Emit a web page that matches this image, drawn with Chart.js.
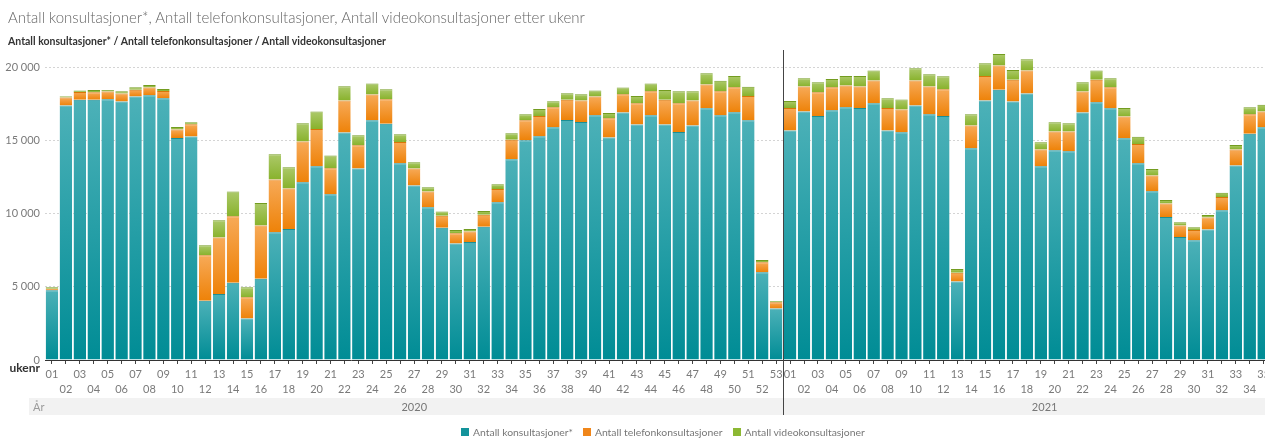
<!DOCTYPE html>
<html>
<head>
<meta charset="utf-8">
<script src="https://cdn.jsdelivr.net/npm/chart.js@4.4.1/dist/chart.umd.min.js"></script>
<style>
  html, body { margin: 0; padding: 0; background: #fff; }
  #wrap { position: relative; width: 1265px; height: 438px; overflow: hidden; font-family: Lato, "Open Sans", sans-serif; }
  #chartBox { position: absolute; left: 0; top: 0; width: 1273px; height: 438px; }
  #title { position: absolute; left: 8px; top: 8px; font-size: 15px; color: #666; font-weight: 300; white-space: nowrap; }
  #subtitle { position: absolute; left: 8px; top: 35px; font-size: 10.5px; color: #333; font-weight: bold; white-space: nowrap; }
  #legend { position: absolute; left: 461px; top: 426px; font-size: 10.4px; color: #777; white-space: nowrap; display: flex; align-items: center; }
  #legend .it { display: flex; align-items: center; margin-right: 10px; }
  #legend .sq { width: 8px; height: 8px; margin-right: 4px; display: inline-block; }
</style>
</head>
<body>
<div id="wrap">
  <div id="chartBox"><canvas id="c" width="1273" height="438"></canvas></div>
  <div id="title">Antall konsultasjoner*, Antall telefonkonsultasjoner, Antall videokonsultasjoner etter ukenr</div>
  <div id="subtitle">Antall konsultasjoner* / Antall telefonkonsultasjoner / Antall videokonsultasjoner</div>
  <div id="legend"></div>
</div>
<script>
// ---- data ----
const weekLabels = [
  '01','02','03','04','05','06','07','08','09','10','11','12','13','14','15','16','17','18','19','20',
  '21','22','23','24','25','26','27','28','29','30','31','32','33','34','35','36','37','38','39','40',
  '41','42','43','44','45','46','47','48','49','50','51','52','53',
  '01','02','03','04','05','06','07','08','09','10','11','12','13','14','15','16','17','18','19','20',
  '21','22','23','24','25','26','27','28','29','30','31','32','33','34','35'
];
const yearLabels = ['2020', '2021'];
const weeksPerYear = [53, 35];
const seriesNames = ['Antall konsultasjoner*', 'Antall telefonkonsultasjoner', 'Antall videokonsultasjoner'];
const yTicks = [0, 5000, 10000, 15000, 20000];

const konsultasjoner = [
  4770,17400,17790,17790,17830,17670,18020,18110,17900,15190,15280,4060,4520,5290,2830,5560,8730,8960,12150,13250,
  11330,15550,13090,16400,16150,13450,11930,10440,9050,7960,8070,9120,10790,13730,15030,15300,15920,16420,16280,16740,
  15210,16920,16100,16740,16100,15600,16030,17220,16740,16940,16400,6000,3530,
  15690,16990,16690,17080,17290,17240,17560,15690,15580,17400,16810,16690,5360,14480,17740,18490,17670,18220,13250,14340,
  14280,16920,17630,17220,15170,13450,11540,9780,8420,8190,8920,10240,13300,15480,15920
];
const telefon = [
  110,550,540,520,530,550,470,520,500,570,840,3100,3850,4540,1460,3630,3610,2760,2790,2550,
  1780,2190,1600,1750,1680,1460,1160,1080,820,710,710,820,910,1340,1370,1390,1370,1370,1460,1280,
  1320,1260,1460,1640,1690,1960,1710,1620,1640,1710,1660,680,420,
  1550,1710,1620,1570,1480,1460,1550,1550,1550,1710,1890,1830,610,1550,1690,1650,1490,1570,1140,1280,
  1340,1440,1530,1430,1480,1330,1070,920,770,700,820,910,1090,1330,1070
];
const video = [
  90,90,100,160,110,160,160,180,140,180,140,680,1190,1690,680,1550,1730,1460,1250,1190,
  870,980,680,760,690,530,430,290,280,220,180,250,320,440,410,480,410,450,440,410,
  370,450,500,530,680,820,640,770,710,780,620,160,90,
  480,570,690,570,660,730,680,660,680,840,840,890,260,780,870,780,680,780,500,640,
  570,640,630,620,590,480,460,250,230,190,180,280,320,480,460
];

// ---- styles ----
const allSeries = [konsultasjoner, telefon, video];
const palette = [
  { top: '#4cb1b8', bottom: '#008c95', line: '#1a8f96', legend: '#13939b' },
  { top: '#f7aa58', bottom: '#ee8208', line: '#d97607', legend: '#f0861a' },
  { top: '#acc96a', bottom: '#88b22c', line: '#739c20', legend: '#8cb833' }
];

function gradientFor(dsIdx) {
  const p = palette[dsIdx];
  return (ctx) => {
    const chart = ctx.chart;
    const area = chart.chartArea;
    const ys = chart.scales && chart.scales.y;
    if (!area || !ys || ctx.type !== 'data') return p.bottom;
    const i = ctx.dataIndex;
    let base = 0;
    for (let d = 0; d < dsIdx; d++) base += allSeries[d][i];
    const v = allSeries[dsIdx][i];
    const y0 = ys.getPixelForValue(base);
    const y1 = ys.getPixelForValue(base + v);
    if (!isFinite(y0) || !isFinite(y1) || Math.abs(y0 - y1) < 0.5) return p.bottom;
    const g = chart.ctx.createLinearGradient(0, y1, 0, y0);
    g.addColorStop(0, p.top);
    g.addColorStop(1, p.bottom);
    return g;
  };
}

function fmt(v) { return String(v).replace(/\B(?=(\d{3})+(?!\d))/g, ' '); }

// legend (HTML)
const legendEl = document.getElementById('legend');
seriesNames.forEach((n, i) => {
  const it = document.createElement('div'); it.className = 'it';
  const sq = document.createElement('span'); sq.className = 'sq'; sq.style.background = palette[i].legend;
  const tx = document.createElement('span'); tx.textContent = n;
  it.appendChild(sq); it.appendChild(tx); legendEl.appendChild(it);
});

const FONT = 'Lato, "Open Sans", sans-serif';
Chart.defaults.font.family = FONT;

const extras = {
  id: 'extras',
  afterDraw(chart) {
    const c = chart.ctx;
    const xs = chart.scales.x;
    const area = chart.chartArea;
    const step = xs.getPixelForValue(1) - xs.getPixelForValue(0);
    const sepX = Math.round((xs.getPixelForValue(weeksPerYear[0] - 1) + xs.getPixelForValue(weeksPerYear[0])) / 2) + 0.5;
    c.save();
    // År band
    c.fillStyle = '#f2f2f2';
    c.fillRect(29, 398, chart.width - 29, 17);
    c.font = '11px ' + FONT;
    c.textBaseline = 'middle';
    c.fillStyle = '#9a9a9a';
    c.textAlign = 'left';
    c.fillText('År', 33, 407);
    c.fillStyle = '#777';
    c.textAlign = 'center';
    const x2020 = (area.left + sepX) / 2;
    const x2021 = sepX + (37.5 * step) / 2;
    c.fillText(yearLabels[0], x2020, 407);
    c.fillText(yearLabels[1], x2021, 407);
    // ukenr
    c.font = 'bold 12px ' + FONT;
    c.fillStyle = '#333';
    c.textAlign = 'right';
    c.fillText('ukenr', 40, 368);
    // separator
    c.strokeStyle = '#444';
    c.lineWidth = 1;
    c.beginPath();
    c.moveTo(sepX, area.top);
    c.lineTo(sepX, 415);
    c.stroke();
    c.restore();
  }
};

const datasets = seriesNames.map((name, d) => ({
  label: name,
  data: allSeries[d],
  backgroundColor: gradientFor(d),
  borderColor: palette[d].line,
  borderWidth: { top: 1, left: 0, right: 0, bottom: 0 },
  borderSkipped: false,
  barPercentage: 0.9,
  categoryPercentage: 1.0
}));

new Chart(document.getElementById('c'), {
  type: 'bar',
  data: { labels: weekLabels, datasets },
  options: {
    responsive: false,
    animation: false,
    layout: { padding: { top: 50, left: 0, right: 0, bottom: 0 } },
    plugins: { legend: { display: false }, tooltip: { enabled: false }, title: { display: false } },
    scales: {
      x: {
        stacked: true,
        offset: true,
        grid: { display: true, drawOnChartArea: false, drawTicks: true, tickLength: 4, tickColor: '#444', tickWidth: 1, offset: false },
        border: { display: true, color: '#333', width: 1 },
        ticks: {
          autoSkip: false, maxRotation: 0, minRotation: 0, padding: 3,
          color: '#7a7a7a',
          font: { size: 11, lineHeight: 1.36 },
          callback: function (val, idx) {
            const l = weekLabels[idx];
            return (parseInt(l, 10) % 2 === 1) ? [l, ''] : ['', l];
          }
        },
        afterFit: (axis) => { axis.height = 78; }
      },
      y: {
        stacked: true,
        min: 0,
        max: 21200,
        afterBuildTicks: (axis) => { axis.ticks = yTicks.map(v => ({ value: v })); },
        afterFit: (axis) => { axis.width = 45; },
        grid: { color: '#d4d4d4', drawTicks: false, lineWidth: 1 },
        border: { display: false, dash: [2, 2] },
        ticks: { padding: 5, color: '#7a7a7a', font: { size: 11 }, callback: (v) => fmt(v) }
      }
    }
  },
  plugins: [extras]
});
</script>
</body>
</html>
